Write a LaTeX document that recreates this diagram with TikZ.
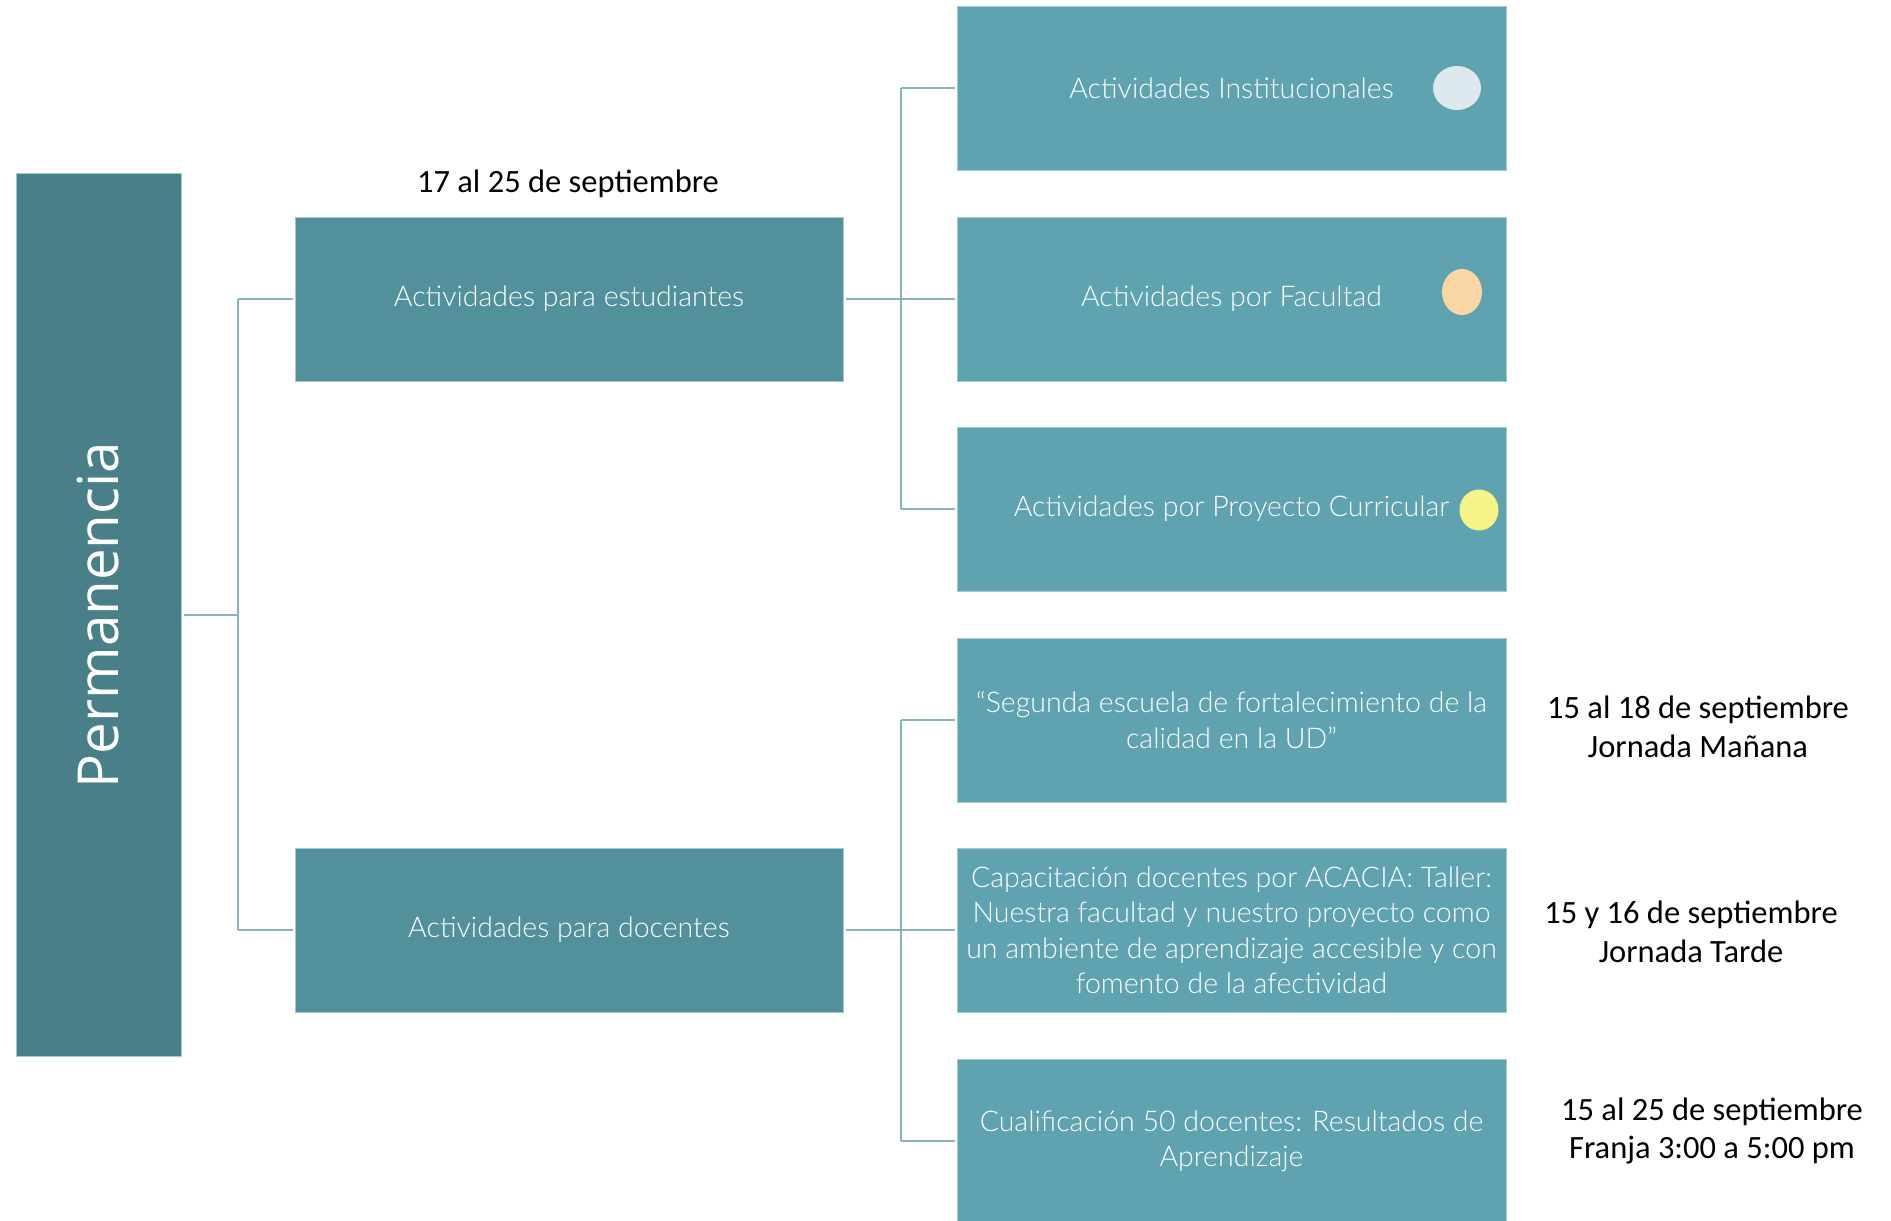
\documentclass[tikz,border=0pt]{standalone}
\usepackage{fontspec}
\setmainfont{Carlito}
\newfontfamily\lightfont{Lato Light}
\newfontfamily\permfont{Open Sans}
\definecolor{permc}{HTML}{487F89}
\definecolor{midc}{HTML}{52919B}
\definecolor{rightc}{HTML}{5FA3B0}
\definecolor{linec}{HTML}{84B5BF}
\definecolor{edgec}{HTML}{A3C9D0}
\definecolor{dotA}{HTML}{DDE9EC}
\definecolor{dotB}{HTML}{FAD6A5}
\definecolor{dotC}{HTML}{F5F488}
\tikzset{
  basebox/.style={draw=edgec, line width=0.8pt, inner sep=0pt, align=center, text=white,
    font=\lightfont\fontsize{28.5}{35.5}\selectfont},
  permbox/.style={basebox, fill=permc, minimum width=883pt, minimum height=165pt,
    font=\permfont\fontsize{56.5}{66}\selectfont},
  midbox/.style={basebox, fill=midc, minimum width=548pt, minimum height=164pt},
  rightbox/.style={basebox, fill=rightc, minimum width=549pt, minimum height=164pt},
  conn/.style={draw=linec, line width=2.8pt},
  datelabel/.style={align=center, text=black, font=\fontsize{32.5}{38.6}\selectfont, inner sep=0pt},
  dot/.style={ellipse, inner sep=0pt}
}
\usetikzlibrary{shapes.geometric}
\begin{document}
\begin{tikzpicture}[x=1pt,y=-1pt]
\useasboundingbox (0,0) rectangle (1891,1221);
% boxes
\node[permbox, rotate=90] (perm) at (98.5,615) {Permanencia};
\node[midbox] (est) at (569,299) {Actividades para estudiantes};
\node[midbox] (doc) at (569,930) {Actividades para docentes};
\node[rightbox] (inst) at (1231.5,88) {Actividades Institucionales};
\node[rightbox] (fac) at (1231.5,299) {Actividades por Facultad};
\node[rightbox] (proy) at (1231.5,509) {Actividades por Proyecto Curricular};
\node[rightbox] (seg) at (1231.5,720) {“Segunda escuela de fortalecimiento de la\\calidad en la UD”};
\node[rightbox] (cap) at (1231.5,930) {Capacitación docentes por ACACIA: Taller:\\Nuestra facultad y nuestro proyecto como\\un ambiente de aprendizaje accesible y con\\fomento de la afectividad};
\node[rightbox] (cual) at (1231.5,1141) {Cualificación 50 docentes: Resultados de\\Aprendizaje};
% dots
\node[dot, fill=dotA, minimum width=48pt, minimum height=44pt] (dA) at (1457,88) {};
\node[dot, fill=dotB, minimum width=40pt, minimum height=46pt] (dB) at (1462,292) {};
\node[dot, fill=dotC, minimum width=39pt, minimum height=41pt] (dC) at (1479,510) {};
% labels
\node[datelabel] (d0) at (568,184) {17 al 25 de septiembre};
\node[datelabel] (d1) at (1698,727) {15 al 18 de septiembre\\Jornada Mañana};
\node[datelabel] (d2) at (1691,932) {15 y 16 de septiembre\\Jornada Tarde};
\node[datelabel] (d3) at (1712,1131) {15 al 25 de septiembre\\Franja 3:00 a 5:00 pm};
% connectors
\coordinate (j1) at (238,615);
\coordinate (j2) at (901,299);
\coordinate (j3) at (901,930);
\draw[conn] ([xshift=3pt]perm.south |- j1) -- (j1);
\draw[conn] (est.west -| j1) -- (doc.west -| j1);
\draw[conn] (est.west -| j1) -- ([xshift=-2pt]est.west);
\draw[conn] (doc.west -| j1) -- ([xshift=-2pt]doc.west);
\draw[conn] ([xshift=3pt]est.east) -- (j2);
\draw[conn] (inst.west -| j2) -- (proy.west -| j2);
\draw[conn] (inst.west -| j2) -- ([xshift=-2pt]inst.west);
\draw[conn] (fac.west -| j2) -- ([xshift=-2pt]fac.west);
\draw[conn] (proy.west -| j2) -- ([xshift=-2pt]proy.west);
\draw[conn] ([xshift=3pt]doc.east) -- (j3);
\draw[conn] (seg.west -| j3) -- (cual.west -| j3);
\draw[conn] (seg.west -| j3) -- ([xshift=-2pt]seg.west);
\draw[conn] (cap.west -| j3) -- ([xshift=-2pt]cap.west);
\draw[conn] (cual.west -| j3) -- ([xshift=-2pt]cual.west);
\end{tikzpicture}
\end{document}
